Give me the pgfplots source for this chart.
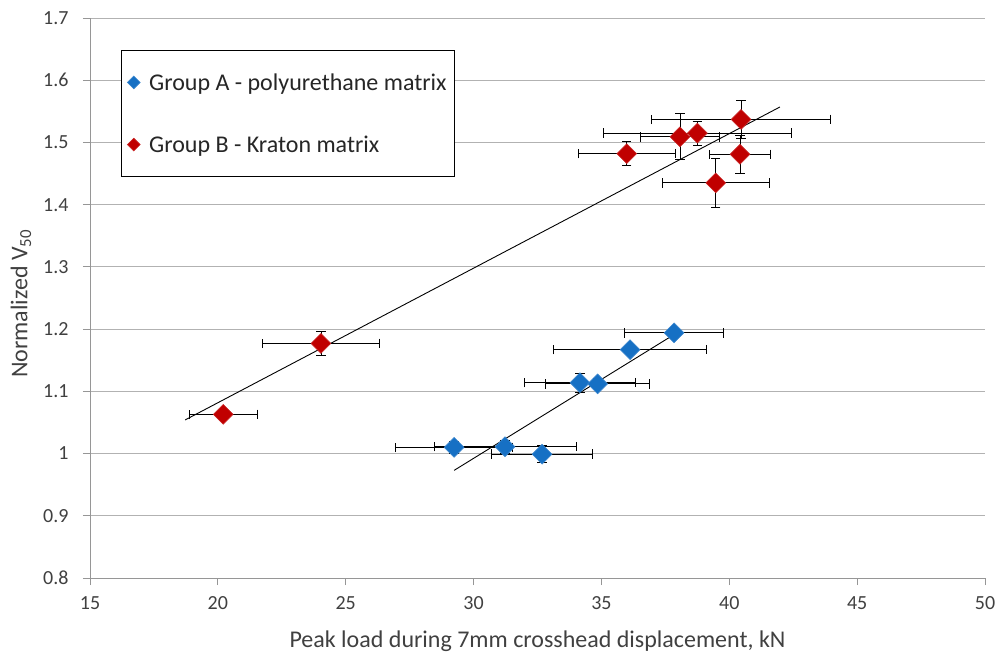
\documentclass[border=0pt]{standalone}
\usepackage{pgfplots}
\pgfplotsset{compat=1.18}
\usepackage{pgfplotstable}
\usepackage{fontspec}
\setmainfont{Carlito}

\definecolor{ablue}{RGB}{22,112,196}
\definecolor{bred}{RGB}{192,0,0}
\definecolor{txt}{RGB}{64,64,64}
\definecolor{gridc}{RGB}{178,178,178}
\definecolor{axc}{RGB}{150,150,150}

% group A - polyurethane matrix
\pgfplotstableread{
x     y      ex    ey
29.24 1.010  2.28  0.010
31.23 1.011  2.78  0.010
32.68 0.999  1.97  0.014
34.16 1.114  2.17  0.015
34.85 1.112  2.03  0.008
36.12 1.167  2.99  0.004
37.84 1.194  1.94  0.004
}\groupA

% group B - Kraton matrix
\pgfplotstableread{
x     y      ex    ey
20.21 1.063  1.34  0.004
24.03 1.177  2.29  0.020
35.99 1.482  1.89  0.019
38.07 1.509  1.55  0.037
38.75 1.515  3.68  0.019
40.46 1.537  3.50  0.031
40.42 1.481  1.20  0.031
39.47 1.435  2.08  0.040
}\groupB

\begin{document}
\begin{tikzpicture}[font=\fontsize{20}{24}\selectfont]
\useasboundingbox (-90pt,-76pt) rectangle (908pt,578pt);
\begin{axis}[
  scale only axis,
  width=895pt, height=560pt,
  xmin=15, xmax=50, ymin=0.8, ymax=1.7,
  xtick={15,20,25,30,35,40,45,50},
  ytick={0.8,0.9,1,1.1,1.2,1.3,1.4,1.5,1.6,1.7},
  axis x line*=bottom, axis y line*=left,
  axis line style={axc, line width=0.9pt},
  ymajorgrids, grid style={gridc, line width=0.9pt},
  tick align=outside, major tick length=7pt,
  tick style={axc, line width=0.9pt},
  tick label style={txt},
  xticklabel style={yshift=-8pt},
  yticklabel style={xshift=-11pt},
  xlabel={Peak load during 7mm crosshead displacement, kN},
  ylabel={Normalized V\textsubscript{50}},
  label style={txt, font=\fontsize{24}{28}\selectfont},
  xlabel style={at={(axis description cs:0.5,-0.113)}, anchor=center},
  ylabel style={at={(axis description cs:-0.077,0.49)}, anchor=center},
  legend cell align=left,
  legend style={at={(axis description cs:0.0346,0.943)}, anchor=north west,
    draw=black, line width=0.9pt, inner xsep=6pt, inner ysep=21pt,
    row sep=40pt, column sep=7pt, text=black!85,
    font=\fontsize{24}{28}\selectfont,
    nodes={inner sep=2pt}},
  legend image code/.code={\draw[#1, mark size=4.5pt] plot coordinates {(0.2cm,0pt)};},
  error bars/error bar style={black, line width=0.8pt},
  error bars/error mark options={rotate=90, black, mark size=4.7pt, line width=0.8pt},
  /pgf/number format/.cd, fixed, precision=1, assume math mode=true,
]
\addplot[only marks, mark=square*, mark size=7pt,
  mark options={rotate=45, fill=ablue, draw=ablue!85!white, line width=0.6pt},
  error bars/.cd, x dir=both, x explicit, y dir=both, y explicit]
  table[x=x, y=y, x error=ex, y error=ey] {\groupA};
\addlegendentry{Group A - polyurethane matrix}
\addplot[only marks, mark=square*, mark size=7pt,
  mark options={rotate=45, fill=bred, draw=bred!85!white, line width=0.6pt},
  error bars/.cd, x dir=both, x explicit, y dir=both, y explicit]
  table[x=x, y=y, x error=ex, y error=ey] {\groupB};
\addlegendentry{Group B - Kraton matrix}
% linear trend lines
\addplot[black, line width=0.9pt, forget plot] coordinates {(18.72,1.054) (41.98,1.557)};
\addplot[black, line width=0.9pt, forget plot] coordinates {(29.24,0.973) (37.79,1.190)};
\end{axis}
\end{tikzpicture}
\end{document}
